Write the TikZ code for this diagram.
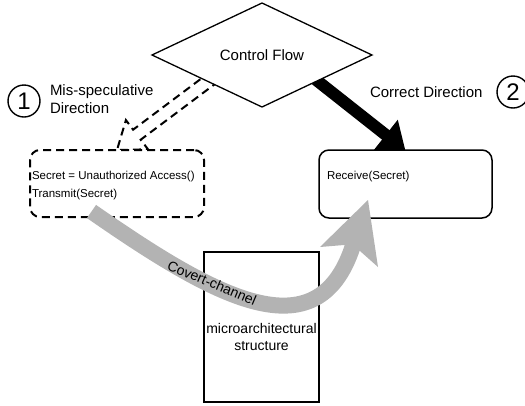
\documentclass[tikz,border=0pt]{standalone}
\usepackage{fontspec}
\setmainfont{Liberation Sans}
\usetikzlibrary{shapes.geometric,arrows.meta}
\definecolor{chgray}{RGB}{179,179,179}
\begin{document}
\begin{tikzpicture}[x=1pt,y=-1pt,
  every node/.style={inner sep=0pt, outer sep=0pt},
  lbl/.style={font=\fontsize{15}{18}\selectfont, align=left},
  smalltxt/.style={font=\fontsize{11.5}{18}\selectfont, align=left},
  numcirc/.style={circle, draw, line width=1.4pt, minimum size=32pt, font=\fontsize{24}{24}\selectfont},
  cfdiamond/.style={diamond, draw, line width=1.3pt, fill=white, minimum width=220pt, minimum height=104pt, font=\fontsize{15}{18}\selectfont},
  specbox/.style={draw, dash pattern=on 8pt off 5pt, line width=2pt, rounded corners=10pt, fill=white, minimum width=174pt, minimum height=67pt},
  solidbox/.style={draw, line width=1.5pt, rounded corners=10pt, fill=white},
  specarrow/.style={draw, dash pattern=on 8pt off 5pt, line width=2pt, line join=miter},
  correctarrow/.style={line width=12pt, -{Triangle[width=37pt,length=25pt]}},
  covertshaft/.style={draw=chgray, line width=16pt},
]
\useasboundingbox (0,0) rectangle (525,405);

% mis-speculative (dashed block arrow)
\coordinate (da1) at (210.7,71.5);
\coordinate (da2) at (133.1,129.7);
\coordinate (da3) at (125.9,120.1);
\coordinate (datip) at (117,150);
\coordinate (da5) at (148,149.3);
\coordinate (da6) at (140.7,139.7);
\coordinate (da7) at (218.3,81.5);
\path[specarrow] (da1) -- (da2) -- (da3) -- (datip) -- (da5) -- (da6) -- (da7);

% correct direction (black block arrow)
\coordinate (ca) at (311.2,76);
\coordinate (cb) at (405.4,150.4);
\draw[correctarrow] (ca) -- (cb);

% control flow diamond
\node[cfdiamond] (cf) at (262,55) {Control Flow};

% boxes
\node[specbox] (spec) at (117,183.5) {};
\node[solidbox, minimum width=173pt, minimum height=68pt] (recv) at (405.5,184) {};
\node[solidbox, rounded corners=0pt, minimum width=115pt, minimum height=150pt] (micro) at (261.5,327) {};

% covert channel arrow
\coordinate (gs) at (91.5,211.5);
\coordinate (gb) at (352.5,247);
\draw[covertshaft] (gs) .. controls (214.5,297) and (316.8,354.5) .. (gb);
\coordinate (gtip) at (368,200);
\fill[chgray] (344,245) -- (320,247) -- (gtip) -- (378,267) -- (360,251) -- cycle;

% texts
\node[smalltxt, anchor=west] (spectext) at (32,186) {Secret = Unauthorized Access()\\Transmit(Secret)};
\node[smalltxt, anchor=west] (recvtext) at (327,177) {Receive(Secret)};
\node[font=\fontsize{14}{17}\selectfont, align=center] (microtext) at (261.5,336.5) {microarchitectural\\structure};
\node[font=\fontsize{14}{17}\selectfont, rotate=-23] (covert) at (212,283) {Covert-channel};

\node[numcirc] (n1) at (24,101) {1};
\node[lbl, anchor=west] (misspec) at (50,99) {Mis-speculative\\Direction};
\node[numcirc] (n2) at (513,92) {2};
\node[lbl, anchor=west] (correct) at (370,92) {Correct Direction};
\end{tikzpicture}
\end{document}
